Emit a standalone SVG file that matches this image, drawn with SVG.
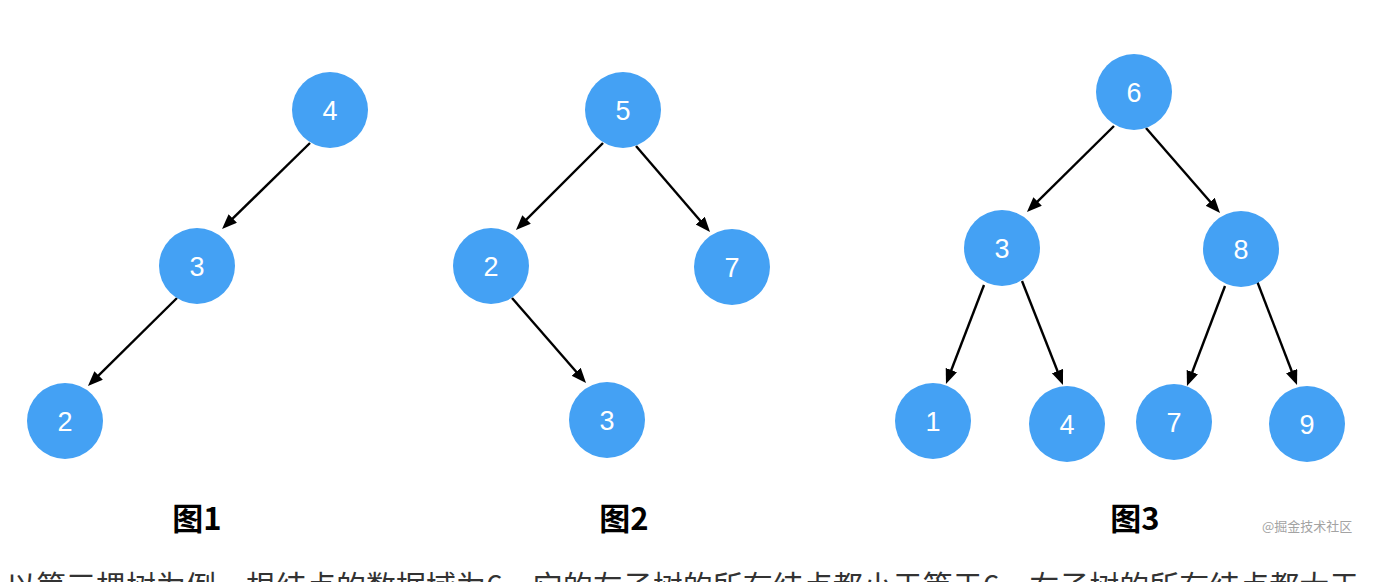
<svg xmlns="http://www.w3.org/2000/svg" width="1396" height="582" viewBox="0 0 1396 582">
<style>
.node circle{fill:#44a1f4}
.node text{fill:#fff;font-family:"Liberation Sans",Arial,sans-serif;font-size:27px;text-anchor:middle}
.edge{stroke:#000;stroke-width:2.4;fill:none;marker-end:url(#arr)}
.cap{font-family:"Noto Sans CJK SC","Liberation Sans",sans-serif;font-size:31px;font-weight:bold;fill:#000;text-anchor:middle}
.wm{font-family:"Noto Sans CJK SC",sans-serif;font-size:13px;fill:#a3a3a3}
.body{font-family:"Noto Sans CJK SC","Liberation Sans",sans-serif;font-size:30px;fill:#333}
</style>
<defs>
<marker id="arr" markerUnits="userSpaceOnUse" markerWidth="16" markerHeight="13" refX="11" refY="6" orient="auto">
<path d="M0,0 L15,6 L0,12 z" fill="#000"/>
</marker>
</defs>
<rect width="1396" height="582" fill="#fff"/>
<g id="connectors">
<line class="edge" x1="310" y1="143" x2="224.9" y2="226.2"/>
<line class="edge" x1="177" y1="298" x2="90.8" y2="383.2"/>
<line class="edge" x1="603" y1="143" x2="518.8" y2="227.2"/>
<line class="edge" x1="636" y1="146" x2="707.4" y2="229"/>
<line class="edge" x1="512" y1="298" x2="583.4" y2="380"/>
<line class="edge" x1="1114" y1="126" x2="1029.8" y2="209.2"/>
<line class="edge" x1="1146" y1="128" x2="1217.4" y2="210"/>
<line class="edge" x1="984" y1="285" x2="947.4" y2="380.3"/>
<line class="edge" x1="1022" y1="281" x2="1061.5" y2="381.3"/>
<line class="edge" x1="1225" y1="286" x2="1188.4" y2="382.3"/>
<line class="edge" x1="1257" y1="281" x2="1295.6" y2="381.3"/>
</g>
<g id="t1n4" class="node"><circle cx="330" cy="110" r="38"/><text x="330" y="119.5">4</text></g>
<g id="t1n3" class="node"><circle cx="197" cy="266" r="38"/><text x="197" y="275.5">3</text></g>
<g id="t1n2" class="node"><circle cx="65" cy="421" r="38"/><text x="65" y="430.5">2</text></g>
<g id="t2n5" class="node"><circle cx="623" cy="110" r="38"/><text x="623" y="119.5">5</text></g>
<g id="t2n2" class="node"><circle cx="491" cy="266" r="38"/><text x="491" y="275.5">2</text></g>
<g id="t2n7" class="node"><circle cx="732" cy="267" r="38"/><text x="732" y="276.5">7</text></g>
<g id="t2n3" class="node"><circle cx="607" cy="420" r="38"/><text x="607" y="429.5">3</text></g>
<g id="t3n6" class="node"><circle cx="1134" cy="92" r="38"/><text x="1134" y="101.5">6</text></g>
<g id="t3n3" class="node"><circle cx="1002" cy="248" r="38"/><text x="1002" y="257.5">3</text></g>
<g id="t3n8" class="node"><circle cx="1241" cy="249" r="38"/><text x="1241" y="258.5">8</text></g>
<g id="t3n1" class="node"><circle cx="933" cy="421" r="38"/><text x="933" y="430.5">1</text></g>
<g id="t3n4" class="node"><circle cx="1067" cy="424" r="38"/><text x="1067" y="433.5">4</text></g>
<g id="t3n7" class="node"><circle cx="1174" cy="422" r="38"/><text x="1174" y="431.5">7</text></g>
<g id="t3n9" class="node"><circle cx="1307" cy="424" r="38"/><text x="1307" y="433.5">9</text></g>
<g id="captions">
<text class="cap" x="197" y="530">图1</text>
<text class="cap" x="624" y="530">图2</text>
<text class="cap" x="1135" y="530">图3</text>
</g>
<text class="wm" x="1262" y="531">@掘金技术社区</text>
<text class="body" x="6" y="597">以第三棵树为例，根结点的数据域为6，它的左子树的所有结点都小于等于6，右子树的所有结点都大于</text>
</svg>
